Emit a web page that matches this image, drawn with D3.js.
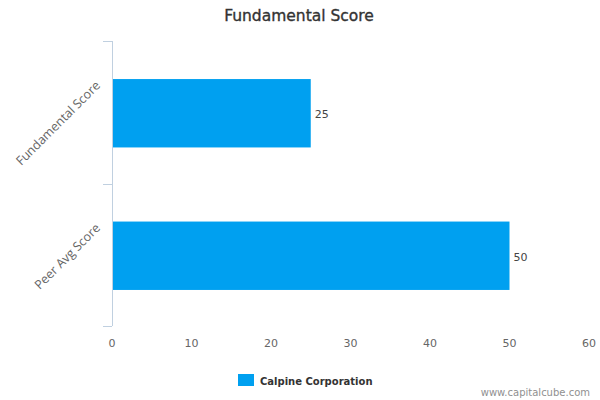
<!DOCTYPE html>
<html><head><meta charset="utf-8">
<script src="https://cdn.jsdelivr.net/npm/d3@7"></script>
<style>body{margin:0;background:#fff;font-family:"DejaVu Sans",sans-serif}</style>
</head><body><svg id="c" width="600" height="400"></svg>
<script>
const categories = ["Fundamental Score", "Peer Avg Score"];
const values = [25, 50];
const xTicks = [0, 10, 20, 30, 40, 50, 60];
const seriesName = "Calpine Corporation";
const chartTitle = "Fundamental Score";
const credit = "www.capitalcube.com";

const svg = d3.select("#c");
const pL = 112, pR = 589, pT = 41, pB = 326;
const x = d3.scaleLinear().domain([0, 60]).range([pL, pR]);
const y = d3.scaleBand().domain(categories).range([pT, pB]).paddingInner(0.52).paddingOuter(0.26);
const yb = d3.scaleBand().domain(categories).range([pT, pB]);
const color = "#00a0f0";

svg.append("text").attr("x", 299).attr("y", 21).attr("text-anchor", "middle")
  .attr("font-size", 15.5).attr("fill", "#333").attr("stroke", "#333").attr("stroke-width", 0.35)
  .text(chartTitle);

const g = svg.append("g");
g.append("line").attr("x1", pL + 0.5).attr("x2", pL + 0.5).attr("y1", pT).attr("y2", pB)
  .attr("stroke", "#c0d0e0");
const tickYs = [pT, pT + yb.bandwidth(), pB];
g.selectAll(".yt").data(tickYs).join("line")
  .attr("x1", pL - 9).attr("x2", pL).attr("y1", d => Math.round(d) + 0.5).attr("y2", d => Math.round(d) + 0.5)
  .attr("stroke", "#c0d0e0");

svg.selectAll(".cl").data(categories).join("text")
  .attr("transform", d => `translate(${pL - 11},${yb(d) + yb.bandwidth() / 2 - 26}) rotate(-45)`)
  .attr("font-family", "'Open Sans'")
  .attr("text-anchor", "end").attr("font-size", 12.5).attr("fill", "#666").text(d => d);

svg.selectAll(".bar").data(values).join("rect")
  .attr("x", x(0) + 1).attr("y", (d, i) => y(categories[i]) + 1)
  .attr("width", d => x(d) - x(0) - 1).attr("height", y.bandwidth()).attr("fill", color);

svg.selectAll(".vl").data(values).join("text")
  .attr("x", d => x(d) + 4).attr("y", (d, i) => y(categories[i]) + y.bandwidth() / 2 + 6)
  .attr("font-size", 11).attr("fill", "#444").text(d => d);

svg.selectAll(".xt").data(xTicks).join("text")
  .attr("x", d => x(d)).attr("y", 347).attr("text-anchor", "middle")
  .attr("font-size", 11).attr("fill", "#666").text(d => d);

svg.append("rect").attr("x", 238).attr("y", 374).attr("width", 16).attr("height", 12).attr("fill", color);
svg.append("text").attr("x", 260).attr("y", 385).attr("font-size", 10).attr("font-weight", "bold")
  .attr("fill", "#333").text(seriesName);

svg.append("text").attr("x", 590).attr("y", 396).attr("text-anchor", "end")
  .attr("font-size", 10).attr("fill", "#909090").text(credit);
</script></body></html>
